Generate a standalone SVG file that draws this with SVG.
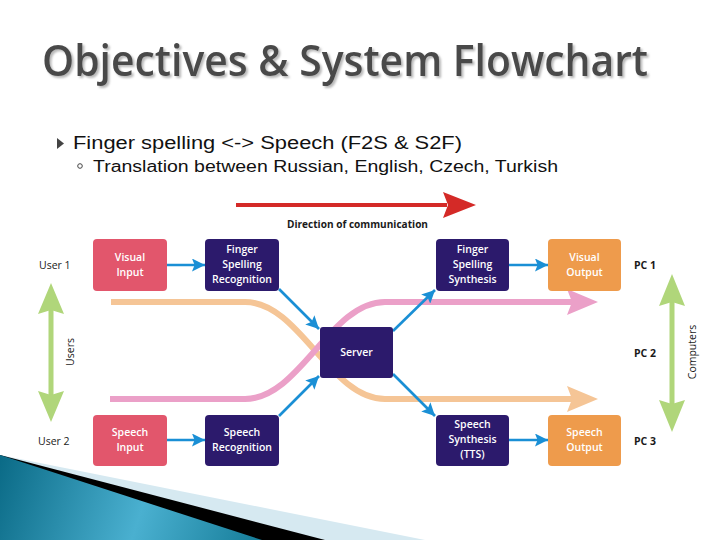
<svg xmlns="http://www.w3.org/2000/svg" width="720" height="540" viewBox="0 0 720 540">
<defs>
<style>
.title{font-family:"Open Sans","Liberation Sans",sans-serif;font-size:44px;font-weight:600;fill:#4a4a4a}
.body{font-family:"Liberation Sans",Arial,sans-serif;fill:#111}
.bt{font-family:"Open Sans","Liberation Sans",sans-serif;font-size:10.5px;font-weight:600;fill:#fff;text-anchor:middle}
.lbl{font-family:"Open Sans","Liberation Sans",sans-serif;font-size:10.5px;fill:#1a1a1a}
.lblb{font-family:"Open Sans","Liberation Sans",sans-serif;font-size:10.5px;font-weight:bold;fill:#1a1a1a}
.in{fill:#E2566C}
.proc{fill:#2C1A6C}
.out{fill:#EE9B4C}
.blue{stroke:#1A8FD5;stroke-width:2.6;fill:none;marker-end:url(#bh)}
.band{fill:none;stroke-width:6}
.green{fill:#B0D67A}
</style>
<marker id="bh" viewBox="0 0 10 10" refX="10" refY="5" markerWidth="13" markerHeight="13" markerUnits="userSpaceOnUse" orient="auto">
<path d="M0,0 L10,5 L0,10 L2,5 z" fill="#1A8FD5"/>
</marker>
<filter id="sh" x="-5%" y="-20%" width="110%" height="150%">
<feDropShadow dx="2" dy="2" stdDeviation="0.8" flood-color="#9a9a9a" flood-opacity="0.7"/>
</filter>
<linearGradient id="teal" x1="0" y1="455" x2="262" y2="540" gradientUnits="userSpaceOnUse">
<stop offset="0" stop-color="#0A6A86"/>
<stop offset="0.55" stop-color="#4AB0D0"/>
<stop offset="1" stop-color="#157C98"/>
</linearGradient>
</defs>
<rect width="720" height="540" fill="#fff"/>

<!-- decoration -->
<polygon points="0,455 425,540 0,540" fill="#D6E9F1"/>
<polygon points="0,455 325,540 0,540" fill="#000"/>
<polygon points="0,455 262,540 0,540" fill="url(#teal)"/>

<!-- heading text -->
<text class="title" x="42" y="76" textLength="606" lengthAdjust="spacingAndGlyphs" filter="url(#sh)">Objectives &amp; System Flowchart</text>
<polygon points="57,138 64,143.5 57,149" fill="#444"/>
<text class="body" x="73" y="149" font-size="18" textLength="389" lengthAdjust="spacingAndGlyphs">Finger spelling  &lt;-&gt; Speech (F2S &amp; S2F)</text>
<circle cx="80" cy="166" r="2.3" fill="none" stroke="#444" stroke-width="1"/>
<text class="body" x="93" y="172" font-size="16" textLength="465" lengthAdjust="spacingAndGlyphs">Translation between Russian, English, Czech, Turkish</text>

<!-- direction arrow -->
<g id="direction">
<line x1="236" y1="205" x2="447" y2="205" stroke="#D42A27" stroke-width="4"/>
<polygon points="443,192 476,205 443,218 448,205" fill="#D42A27"/>
<text class="lblb" x="357.5" y="228" text-anchor="middle" textLength="141" lengthAdjust="spacingAndGlyphs">Direction of communication</text>
</g>

<!-- flow bands -->
<g id="bands">
<path class="band" stroke="#F5C596" d="M111,302 H245 C300,302 330,399 385,399 H572"/>
<polygon points="567,386 598,399 567,412 572,399" fill="#F5C596"/>
<path class="band" stroke="#EBA0C8" d="M110,399 H245 C300,399 330,302 385,302 H572"/>
<polygon points="567,289 598,302 567,315 572,302" fill="#EBA0C8"/>
</g>

<!-- side arrows -->
<g id="users-axis">
<rect x="48.5" y="308" width="5" height="89" class="green"/>
<polygon points="51,283 64,314 51,310 38,314" class="green"/>
<polygon points="51,422 64,391 51,395 38,391" class="green"/>
<text class="lbl" transform="translate(74,352) rotate(-90)" text-anchor="middle">Users</text>
</g>
<g id="computers-axis">
<rect x="669.5" y="300" width="5" height="105" class="green"/>
<polygon points="672,274 685,306 672,302 659,306" class="green"/>
<polygon points="672,432 685,400 672,404 659,400" class="green"/>
<text class="lbl" transform="translate(696,352) rotate(-90)" text-anchor="middle">Computers</text>
</g>

<!-- side labels -->
<text class="lbl" x="39" y="269">User 1</text>
<text class="lbl" x="38" y="445">User 2</text>
<text class="lblb" x="634" y="269">PC 1</text>
<text class="lblb" x="634" y="357">PC 2</text>
<text class="lblb" x="634" y="445">PC 3</text>

<!-- connectors -->
<g id="connectors">
<line class="blue" x1="167" y1="265" x2="205" y2="265"/>
<line class="blue" x1="509" y1="265" x2="548" y2="265"/>
<line class="blue" x1="167" y1="440" x2="205" y2="440"/>
<line class="blue" x1="509" y1="440" x2="548" y2="440"/>
<line class="blue" x1="279" y1="289" x2="319" y2="329"/>
<line class="blue" x1="279" y1="416" x2="319" y2="376"/>
<line class="blue" x1="393" y1="331" x2="435" y2="290"/>
<line class="blue" x1="393" y1="374" x2="435" y2="416"/>
</g>

<!-- nodes -->
<g id="visual-input"><rect class="in" x="93" y="239" width="74" height="52" rx="4"/>
<text class="bt" x="130" y="261">Visual</text><text class="bt" x="130" y="276">Input</text></g>
<g id="fs-recognition"><rect class="proc" x="205" y="239" width="74" height="52" rx="4"/>
<text class="bt" x="242" y="253">Finger</text><text class="bt" x="242" y="268">Spelling</text><text class="bt" x="242" y="283">Recognition</text></g>
<g id="fs-synthesis"><rect class="proc" x="436" y="239" width="73" height="52" rx="4"/>
<text class="bt" x="472.5" y="253">Finger</text><text class="bt" x="472.5" y="268">Spelling</text><text class="bt" x="472.5" y="283">Synthesis</text></g>
<g id="visual-output"><rect class="out" x="548" y="239" width="73" height="52" rx="4"/>
<text class="bt" x="584.5" y="261">Visual</text><text class="bt" x="584.5" y="276">Output</text></g>
<g id="server"><rect class="proc" x="320" y="327" width="73" height="51" rx="3"/>
<text class="bt" x="356.5" y="356">Server</text></g>
<g id="speech-input"><rect class="in" x="93" y="415" width="74" height="51" rx="4"/>
<text class="bt" x="130" y="436">Speech</text><text class="bt" x="130" y="451">Input</text></g>
<g id="speech-recognition"><rect class="proc" x="205" y="415" width="74" height="51" rx="4"/>
<text class="bt" x="242" y="436">Speech</text><text class="bt" x="242" y="451">Recognition</text></g>
<g id="speech-synthesis"><rect class="proc" x="436" y="415" width="73" height="51" rx="4"/>
<text class="bt" x="472.5" y="428">Speech</text><text class="bt" x="472.5" y="443">Synthesis</text><text class="bt" x="472.5" y="458">(TTS)</text></g>
<g id="speech-output"><rect class="out" x="548" y="415" width="73" height="51" rx="4"/>
<text class="bt" x="584.5" y="436">Speech</text><text class="bt" x="584.5" y="451">Output</text></g>
</svg>
